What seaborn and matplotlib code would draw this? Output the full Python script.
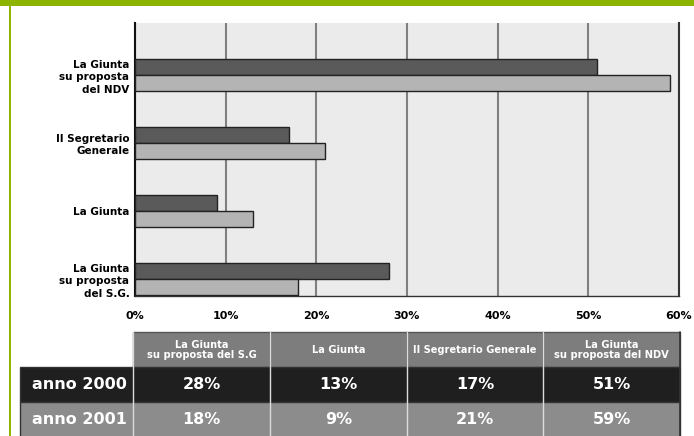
import matplotlib
matplotlib.use("Agg")
import matplotlib.pyplot as plt
from matplotlib.patches import Rectangle
import pandas as pd
import seaborn as sns

# Categories in table order (left to right)
categories = [
    "La Giunta\nsu proposta\ndel S.G.",
    "La Giunta",
    "Il Segretario\nGenerale",
    "La Giunta\nsu proposta\ndel NDV",
]
table_headers = [
    "La Giunta\nsu proposta del S.G",
    "La Giunta",
    "Il Segretario Generale",
    "La Giunta\nsu proposta del NDV",
]
years = ["anno 2000", "anno 2001"]
# bar lengths as drawn in the chart
bars_2000 = [28, 9, 17, 51]
bars_2001 = [18, 13, 21, 59]
# values printed in the table
table_2000 = [28, 13, 17, 51]
table_2001 = [18, 9, 21, 59]
x_ticks = [0, 10, 20, 30, 40, 50, 60]
x_tick_labels = ["0%", "10%", "20%", "30%", "40%", "50%", "60%"]

df = pd.DataFrame({
    "categoria": categories * 2,
    "anno": [years[0]] * 4 + [years[1]] * 4,
    "valore": bars_2000 + bars_2001,
})

W, H = 694, 436
sns.set_style("white")
plt.rcParams["font.family"] = ["DejaVu Sans"]

fig = plt.figure(figsize=(W / 100, H / 100), dpi=100)
fig.patch.set_facecolor("white")

GREEN = "#8cb400"
DARK = "#5a5a5a"
LIGHT = "#b4b4b4"

# Background layer in pixel coordinates: frame and table
bg = fig.add_axes([0, 0, 1, 1], zorder=0)
bg.set_xlim(0, W)
bg.set_ylim(H, 0)
bg.axis("off")
bg.add_patch(Rectangle((0, 0), W, 6, color=GREEN, lw=0))
bg.add_patch(Rectangle((9, 0), 1.6, H, color=GREEN, lw=0))

# Bar chart
left, right, top, bottom = 135, 679, 23, 296
ax = fig.add_axes([left / W, 1 - bottom / H, (right - left) / W, (bottom - top) / H], zorder=2)
ax.set_facecolor("#ebebeb")

sns.barplot(
    data=df, x="valore", y="categoria", hue="anno",
    order=categories[::-1], hue_order=years,
    palette=[DARK, LIGHT], width=0.48, dodge=True,
    edgecolor="#222222", linewidth=1.0, saturation=1,
    legend=False, ax=ax, zorder=3,
)

ax.set_xlim(0, 60)
ax.set_ylim(3.25, -0.765)
ax.set_xticks(x_ticks)
ax.set_xticklabels(x_tick_labels, fontsize=8, fontweight="bold", color="black")
ax.grid(axis="x", color="#808080", lw=1.5, zorder=1)
ax.grid(axis="y", visible=False)
ax.set_axisbelow(True)
ax.set_xlabel("")
ax.set_ylabel("")
for lab in ax.get_yticklabels():
    lab.set_fontweight("bold")
    lab.set_fontsize(7.5)
    lab.set_color("black")
    lab.set_multialignment("right")
    lab.set_linespacing(1.3)
ax.tick_params(axis="x", length=0, pad=11)
ax.tick_params(axis="y", which="major", direction="in", length=9.5, width=1.5,
               color="#333333", pad=4)
ax.set_yticks([-0.5, 0.5, 1.5, 2.5], minor=True)
ax.tick_params(axis="y", which="minor", direction="in", length=9.5, width=1.5,
               color="#808080")
ax.spines["top"].set_visible(False)
ax.spines["left"].set_color("#111111")
ax.spines["left"].set_linewidth(1.5)
ax.spines["right"].set_color("#333333")
ax.spines["right"].set_linewidth(1.5)
ax.spines["bottom"].set_color("#333333")
ax.spines["bottom"].set_linewidth(1.0)

# Data table
col_edges = [20, 133, 270, 407, 543, 680]
row_edges = [332, 367, 402, H + 1]
row_colors = ["#1f1f1f", "#8c8c8c"]
rows = [table_2000, table_2001]

for j, head in enumerate(table_headers):
    x0, x1 = col_edges[j + 1], col_edges[j + 2]
    y0, y1 = row_edges[0], row_edges[1]
    bg.add_patch(Rectangle((x0, y0), x1 - x0, y1 - y0, facecolor="#7d7d7d",
                           edgecolor="#555555", lw=1))
    bg.text((x0 + x1) / 2, (y0 + y1) / 2, head, color="white", fontsize=7.1,
            fontweight="bold", ha="center", va="center", linespacing=1.0)

for i, (name, vals) in enumerate(zip(years, rows)):
    y0, y1 = row_edges[i + 1], row_edges[i + 2]
    bg.add_patch(Rectangle((col_edges[0], y0), col_edges[-1] - col_edges[0], y1 - y0,
                           facecolor=row_colors[i], edgecolor="#333333", lw=1))
    bg.text(col_edges[1] - 6, (y0 + y1) / 2, name, color="white", fontsize=11.5,
            fontweight="bold", ha="right", va="center")
    for j, v in enumerate(vals):
        x0, x1 = col_edges[j + 1], col_edges[j + 2]
        bg.text((x0 + x1) / 2, (y0 + y1) / 2, f"{v}%", color="white", fontsize=11.5,
                fontweight="bold", ha="center", va="center")

# light separators between the table columns
for xe in col_edges[1:-1]:
    bg.plot([xe, xe], [row_edges[0], H], color="#dcdcdc", lw=1)
bg.plot([col_edges[-1], col_edges[-1]], [row_edges[0], H], color="#333333", lw=1.2)

fig.savefig("out.png", dpi=100, facecolor="white")
